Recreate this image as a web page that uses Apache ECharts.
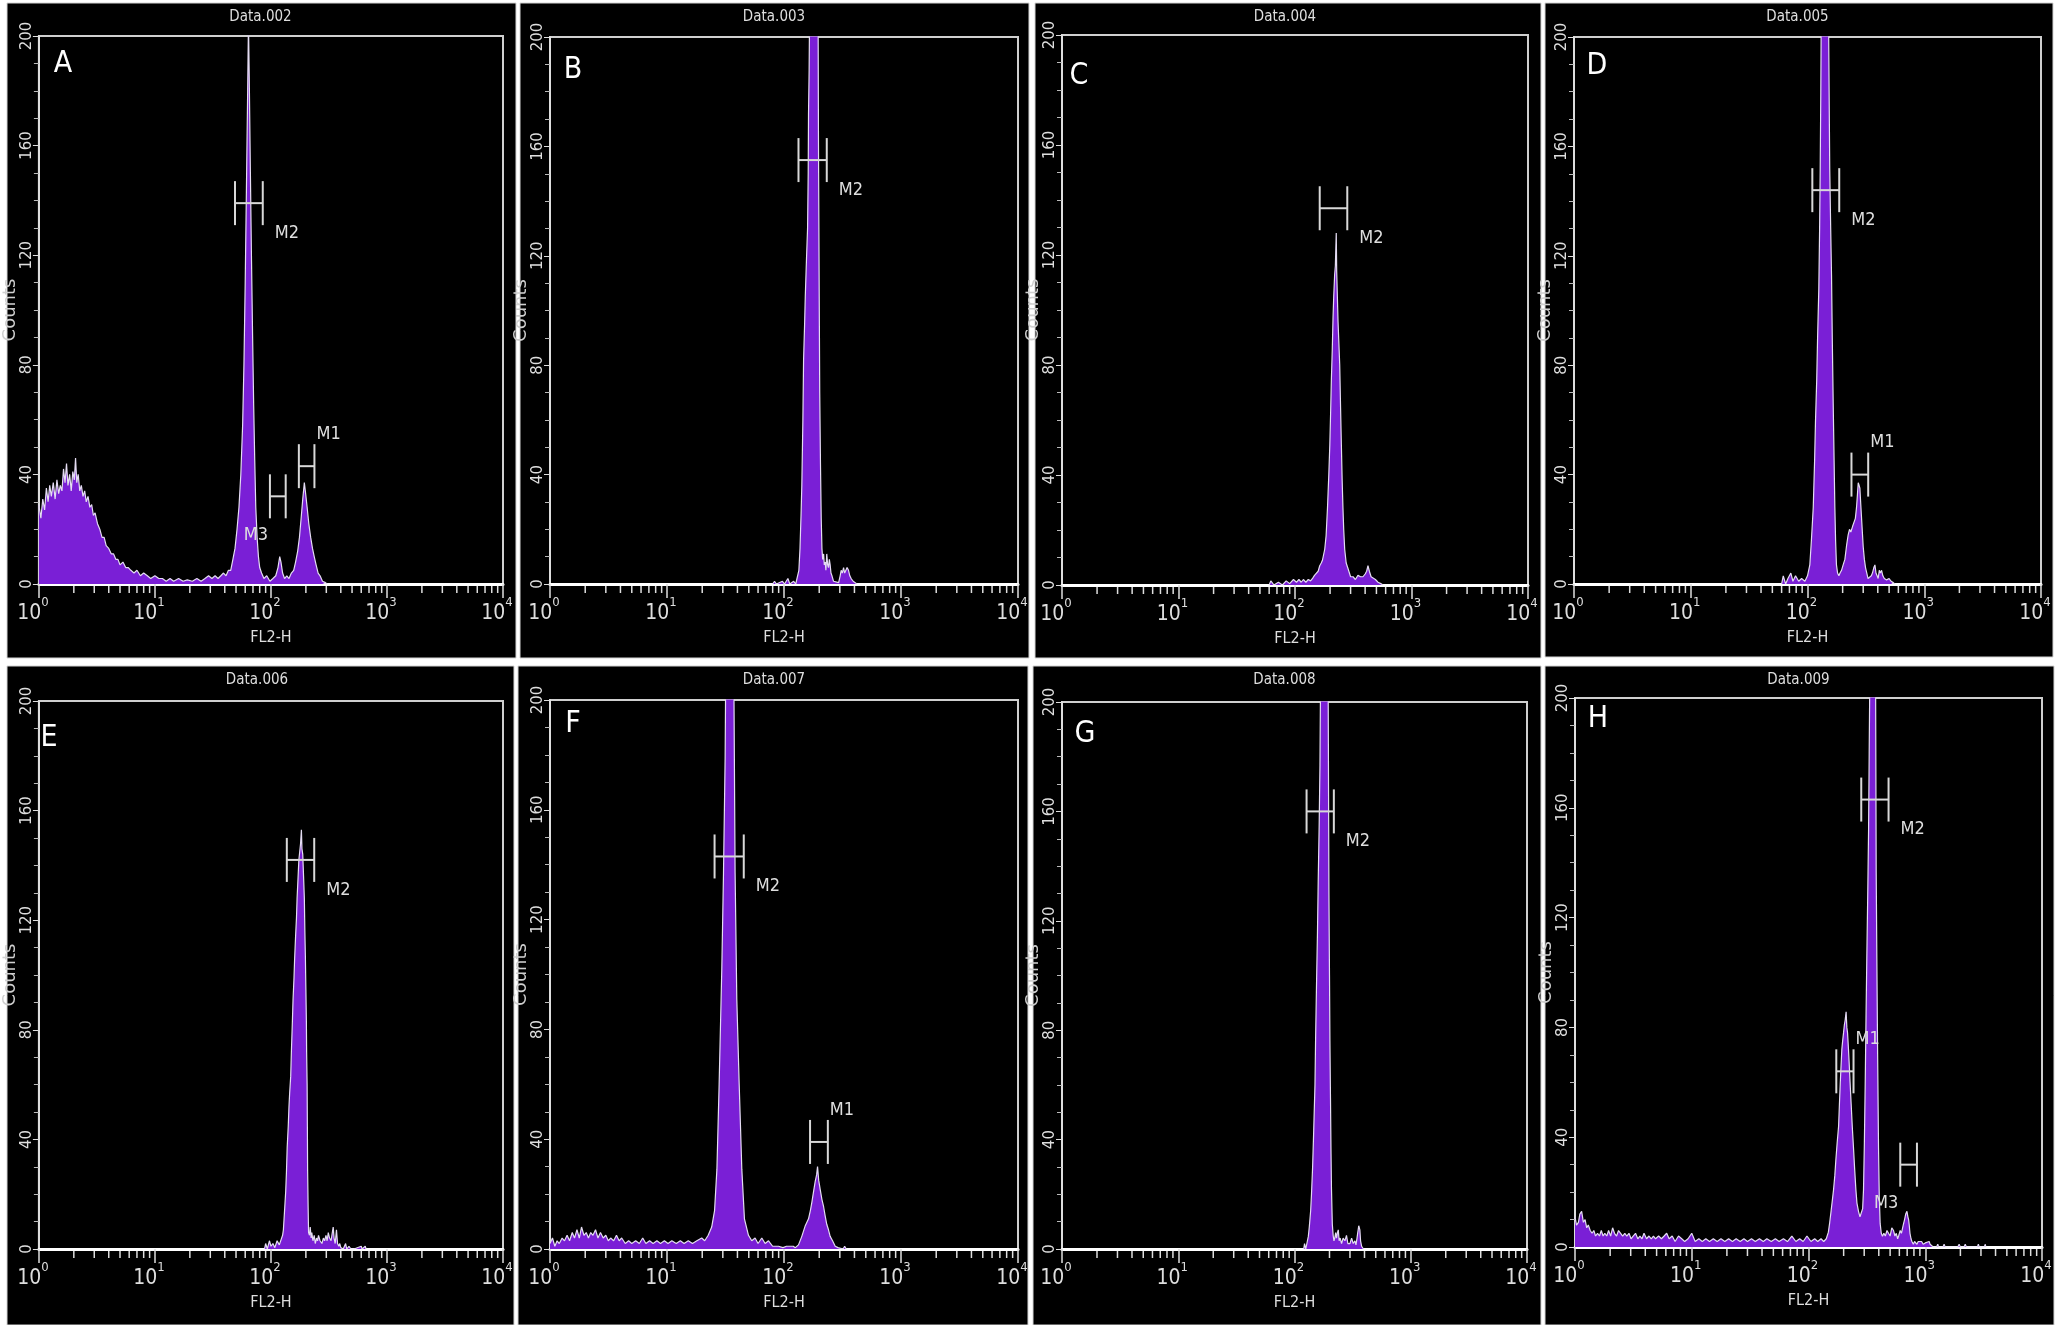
<!DOCTYPE html>
<html>
<head>
<meta charset="utf-8">
<style>
html, body { margin: 0; background: #fff; }
#chart { width: 2065px; height: 1325px; }
</style>
</head>
<body>
<div id="chart"></div>
<script src="https://cdn.jsdelivr.net/npm/echarts@6/dist/echarts.min.js"></script>
<script>
// ---- data: [FL2-H, counts] ----
var titles = ['Data.002', 'Data.003', 'Data.004', 'Data.005', 'Data.006', 'Data.007', 'Data.008', 'Data.009'];
var letters = ['A', 'B', 'C', 'D', 'E', 'F', 'G', 'H'];
var xTickExps = ['0', '1', '2', '3', '4'];
var minorTicks = [2, 3, 4, 5, 6, 7, 8, 9, 20, 30, 40, 50, 60, 70, 80, 90,
  200, 300, 400, 500, 600, 700, 800, 900, 2000, 3000, 4000, 5000, 6000, 7000, 8000, 9000];

var histA = [[1, 29], [1.04, 24], [1.08, 31], [1.12, 27], [1.16, 35], [1.2, 30], [1.24, 36], [1.28, 32], [1.33, 37],
  [1.38, 31], [1.43, 38], [1.48, 33], [1.53, 36], [1.58, 34], [1.63, 42], [1.68, 37], [1.73, 44], [1.78, 36], [1.84, 40],
  [1.9, 34], [1.96, 41], [2.02, 38], [2.07, 46], [2.12, 37], [2.18, 40], [2.25, 34], [2.32, 36], [2.4, 32], [2.48, 34],
  [2.56, 30], [2.65, 32], [2.75, 28], [2.85, 29], [2.95, 25], [3.05, 26], [3.2, 22], [3.35, 20], [3.5, 17], [3.65, 17],
  [3.8, 14], [4, 13], [4.2, 11], [4.4, 11], [4.6, 9], [4.8, 9], [5, 7], [5.3, 8], [5.6, 6], [5.9, 6], [6.2, 5], [6.6, 4],
  [7, 5], [7.5, 3], [8, 4], [8.6, 3], [9.2, 2], [10, 3], [10.8, 2], [11.6, 2], [12.5, 1], [13.5, 2], [14.5, 1], [16, 2],
  [17.5, 1], [19, 1.5], [21, 1], [23, 2], [25, 1], [27, 2], [29, 3], [31, 2], [33, 3], [35, 2], [37, 3], [39, 4], [41, 3],
  [43, 5], [45, 5], [47, 9], [49, 13], [51, 20], [53, 28], [55, 40], [57, 58], [58.5, 80], [60, 110], [61.5, 145],
  [63, 180], [64, 205], [65, 185], [66.5, 150], [68, 118], [69.5, 90], [71, 65], [72.5, 45], [74, 28], [76, 17], [78, 10],
  [80, 6], [83, 4], [87, 2], [92, 3], [98, 1], [104, 2], [110, 3], [115, 6], [119, 10], [122, 8], [126, 4], [131, 2],
  [137, 3], [143, 2], [150, 4], [157, 5], [163, 8], [170, 12], [176, 17], [182, 24], [188, 31], [194, 37], [199, 33],
  [205, 28], [212, 22], [220, 17], [228, 13], [236, 10], [245, 7], [255, 4], [265, 3], [278, 1], [295, 0.5], [305, 0]];

var histB = [[80, 0], [83, 1], [86, 0], [97, 1], [101, 0], [108, 2], [112, 0], [121, 1], [126, 0], [131, 0.5], [134, 5],
  [137, 13], [140, 26], [142, 36], [145, 60], [147, 82], [150, 95], [152, 105], [156, 120], [159, 130], [161, 150],
  [162, 172], [164, 188], [167, 230], [180, 250], [195, 230], [197, 164], [200, 105], [202, 70], [205, 44], [208, 24],
  [211, 13], [214, 9], [218, 11], [221, 7], [225, 8], [228, 5], [232, 11], [236, 7], [240, 6], [244, 9], [248, 7],
  [252, 4], [257, 3], [265, 1], [275, 1], [293, 0.5], [302, 3], [308, 5], [315, 4], [323, 6], [330, 4], [338, 5],
  [346, 6], [356, 5], [365, 3], [375, 2], [390, 1], [401, 0.5], [420, 0]];

var histC = [[60, 0], [62, 1.5], [66, 0], [72, 1], [78, 0], [84, 1.5], [90, 0.5], [97, 2], [103, 1], [108, 2], [113, 1],
  [118, 2], [124, 1], [130, 2], [136, 1.5], [142, 2.5], [147, 3.5], [152, 4], [158, 5], [163, 7], [168, 8], [172, 9],
  [176, 11], [180, 13], [185, 18], [190, 28], [195, 40], [199, 51], [202, 62], [205, 74], [209, 86], [212, 97],
  [215, 105], [219, 113], [222, 116], [226, 128], [228, 114], [231, 105], [234, 96], [238, 88], [242, 80], [246, 65],
  [250, 51], [254, 38], [258, 28], [262, 20], [267, 13], [275, 8], [285, 6], [300, 3], [315, 3], [330, 2], [347, 3.5],
  [365, 3], [383, 3], [400, 4], [412, 5], [423, 7], [435, 5], [450, 3], [467, 3], [490, 2], [516, 1], [545, 0.5], [570, 0]];

var histD = [[60, 0], [62, 3], [65, 0], [68, 2], [72, 4], [75, 1], [79, 3], [84, 1], [89, 2], [95, 1], [100, 3],
  [104.7, 7], [108, 16], [112, 28], [115, 45], [117, 59], [120, 75], [122, 90], [125, 108], [127, 130], [128.5, 152],
  [130, 180], [132, 230], [141, 250], [150, 230], [155, 152], [158, 130], [160.6, 113], [163, 90], [166, 66], [169, 45],
  [171.5, 28], [174, 16], [177, 7], [181, 4], [185.6, 3], [190, 4], [195.6, 5], [202, 7], [209, 9], [216, 14], [223, 18],
  [229, 20], [235, 19], [243, 21], [251, 21], [257, 24], [263, 28], [268, 33], [272, 37], [277, 36], [281, 35],
  [286, 29], [290, 24.5], [295, 19], [300, 13.6], [307, 9], [314, 6], [322, 4], [330, 2], [342, 2], [352, 3], [360, 4],
  [370, 6], [378, 7], [386, 4], [395, 3], [403, 2], [412, 5], [420, 4], [431, 5], [442, 3], [455, 2], [476, 1.5],
  [500, 2], [520, 1], [543, 0.5], [560, 0]];

var histE = [[88, 0], [90, 2], [93, 0], [97, 3], [100, 1], [104, 2], [108, 0.5], [113, 3], [118, 1.5], [122, 2],
  [126, 5], [128, 7], [131, 14], [134, 21], [136, 28], [138, 37], [141, 45], [143, 52], [145, 57], [148, 63], [150, 72],
  [153, 83], [155, 91], [158, 99], [160, 106], [163, 114], [166, 121], [168, 128], [171, 135], [174, 142], [177, 145],
  [180, 148], [183, 153], [185, 146], [188, 144], [191, 136], [194, 128], [196, 116], [198, 107], [200, 95], [202, 83],
  [203, 72], [205, 60], [206, 45], [207, 29], [209, 16], [211, 6], [215, 5], [218, 8], [222, 4], [225, 6], [230, 3],
  [236, 5], [241, 2], [247, 4], [252, 3], [257, 5], [265, 3], [275, 2], [283, 4], [290, 3], [298, 5], [305, 3], [312, 6],
  [320, 4], [330, 3], [338, 6], [344, 8], [350, 4], [358, 2], [367, 7], [375, 2], [385, 1], [392, 2], [400, 0.5],
  [420, 0], [440, 2], [450, 0], [470, 1], [490, 0], [520, 0], [600, 1], [610, 0], [650, 1], [660, 0]];

var histF = [[1, 2], [1.05, 4], [1.1, 1], [1.15, 3], [1.2, 2], [1.27, 4], [1.33, 3], [1.4, 5], [1.47, 3], [1.55, 6],
  [1.62, 4], [1.7, 7], [1.78, 4], [1.86, 8], [1.95, 5], [2.04, 6], [2.13, 4], [2.23, 6], [2.33, 5], [2.45, 7], [2.57, 4],
  [2.7, 6], [2.85, 4], [3, 5], [3.15, 3], [3.3, 4], [3.5, 3], [3.7, 5], [3.9, 3], [4.1, 4], [4.4, 2], [4.7, 3], [5, 2],
  [5.4, 3], [5.8, 2], [6.2, 4], [6.6, 2], [7.1, 3], [7.6, 2], [8.2, 3], [8.8, 2], [9.5, 3], [10.2, 2], [11, 3], [12, 2],
  [13, 3], [14, 2], [15.2, 3], [16.5, 2], [18, 3], [19.8, 4], [21, 3], [22.5, 5], [24.1, 8], [25.5, 14], [26.7, 29],
  [27.9, 60], [29.4, 102], [30.4, 137], [31.4, 179], [32, 230], [34.6, 250], [37, 230], [38.2, 137], [39.5, 91],
  [41.4, 60], [43.6, 29], [45.9, 11], [49.7, 5], [53, 3], [56.6, 4], [60, 2], [64.6, 4], [69, 2], [73.7, 3], [80, 1],
  [89.7, 1], [98, 0.5], [105, 1], [109, 0.5], [120, 1], [125, 0.5], [133, 1.5], [142, 4.6], [152, 8.5], [162, 11],
  [168, 14], [173, 17], [179, 21], [185, 24.7], [190, 27], [193.5, 30], [198, 25], [204, 21.6], [211, 18], [218, 15.4],
  [225, 12], [232, 9], [240, 7], [248, 4.6], [260, 3], [274, 1], [290, 0.5], [300, 0], [320, 0], [330, 1], [340, 0]];

var histG = [[120, 0], [122, 2], [125, 0], [131.5, 4.6], [134, 8], [137.7, 14], [140, 20], [143, 29.5], [146, 42],
  [150, 60], [152, 78], [155, 99], [157.5, 115], [160, 135], [163, 155], [165.6, 177], [167, 200], [171, 240], [183, 250],
  [192.6, 240], [195, 200], [197.8, 130], [200, 100], [201.7, 76], [204, 55], [205.9, 37], [208, 22], [211.5, 9],
  [215, 5], [218.5, 3], [222, 4], [226, 6], [230, 4], [234, 6], [238, 7], [242, 3], [247, 4], [254, 2], [262, 4],
  [271.5, 3], [280, 5], [288, 2], [300, 2], [310, 4], [320, 2], [331, 3], [338, 1.5], [345, 4], [350, 6], [353, 7],
  [357, 8.5], [362, 9], [365, 7], [370, 3], [378, 1], [385, 0.5], [392, 0]];

var histH = [[1, 11], [1.03, 8], [1.07, 9], [1.1, 12], [1.14, 13], [1.18, 9], [1.22, 10], [1.26, 7], [1.3, 8], [1.35, 6],
  [1.4, 5], [1.45, 6], [1.5, 4], [1.56, 5], [1.62, 4], [1.68, 6], [1.74, 4], [1.8, 5], [1.87, 4], [1.94, 6], [2.02, 4],
  [2.1, 7], [2.18, 5], [2.27, 4], [2.36, 6], [2.46, 5], [2.56, 4], [2.67, 5], [2.78, 4], [2.9, 5], [3.02, 3], [3.15, 4],
  [3.3, 5], [3.45, 3], [3.6, 4], [3.75, 3], [3.9, 5], [4.1, 3], [4.3, 4], [4.5, 3], [4.7, 4], [4.9, 3], [5.2, 4], [5.5, 3],
  [5.8, 4], [6.1, 5], [6.4, 3], [6.8, 4], [7.2, 2], [7.7, 4], [8.2, 3], [8.7, 2], [9.3, 3], [10, 5], [10.7, 2], [11.5, 3],
  [12.3, 2], [13.2, 3], [14.2, 2], [15.3, 3], [16.5, 2], [17.8, 3], [19.2, 2], [20.7, 3], [22.3, 2], [24, 3], [26, 2],
  [28, 3], [30, 2], [32.5, 3], [35, 2], [38, 3], [41, 2], [44, 3], [48, 2], [52, 3], [56, 2], [61, 3], [66, 2], [72, 4],
  [78, 2], [84, 3], [90, 2], [97, 4], [105, 2], [113, 3], [120, 2], [128, 3], [135, 2], [142, 3], [148, 5.4], [152, 9],
  [156, 13], [160, 17], [164, 21], [168, 26], [171.5, 31.7], [176, 38], [181, 44], [184, 52], [187, 59.5], [190, 66],
  [193, 72], [196, 75], [199.5, 78], [203, 81], [206, 82.6], [210, 85.7], [213, 80], [216, 78], [220, 72], [223, 67],
  [227, 60], [232, 52], [237, 44], [243, 36], [248, 29], [254.5, 21], [260, 16], [268, 13], [276, 11], [286, 11.6],
  [291, 14], [296, 21], [301, 38], [306, 59.5], [311, 84], [316, 106], [322, 130], [327, 152], [331, 180], [334, 200],
  [338, 240], [355, 250], [373, 240], [376, 200], [380, 137], [385, 105], [390, 75], [394, 55], [398, 36], [404, 18],
  [411, 8.5], [420, 5], [430, 3.9], [442, 5], [455, 4], [470, 6], [485, 5.4], [500, 4], [517, 7], [535, 6], [550, 4],
  [565, 5], [580, 3], [591, 4], [610, 6], [625, 5], [640, 7], [652, 8.5], [665, 10], [680, 12], [697, 13], [710, 11],
  [720, 10], [729, 8], [740, 5], [755, 3], [769, 2], [790, 1], [810, 2], [830, 1.5], [849, 1], [870, 2], [900, 1.5],
  [930, 2], [960, 1], [1000, 1.5], [1040, 1], [1080, 2], [1100, 1], [1141, 1], [1170, 0], [1250, 0], [1280, 1], [1300, 0],
  [1420, 0], [1450, 1], [1480, 0], [1900, 0], [1950, 1], [2000, 0], [2150, 0], [2200, 1], [2250, 0], [2800, 0],
  [2850, 1], [2900, 0], [3200, 0], [3270, 1], [3300, 0]];

// gates: [from, to, counts level, name]
var gatesA = [[49, 85, 139, 'M2'], [98, 134, 32, 'M3'], [174, 237, 43, 'M1']];
var gatesB = [[133, 232, 155, 'M2']];
var gatesC = [[163, 281, 137, 'M2']];
var gatesD = [[110, 187, 144, 'M2'], [238, 331, 40, 'M1']];
var gatesE = [[137, 236, 142, 'M2']];
var gatesF = [[25.5, 45.3, 143, 'M2'], [167, 237, 39, 'M1']];
var gatesG = [[127, 218, 160, 'M2']];
var gatesH = [[283, 485, 163, 'M2'], [173, 243, 64, 'M1'], [611, 849, 30, 'M3']];

var hists = [histA, histB, histC, histD, histE, histF, histG, histH];
var gates = [gatesA, gatesB, gatesC, gatesD, gatesE, gatesF, gatesG, gatesH];

// ---- layout ----
var plots = [
  [38, 36, 465, 548], [550, 37, 468, 547], [1062, 35, 466, 550], [1574, 37, 467, 547],
  [31, 701, 472, 548], [550, 700, 468, 549], [1062, 702, 465, 547], [1575, 698, 467, 549]
];
var panels = [
  [7, 3, 509, 655], [520, 3, 509, 655], [1035, 3, 506, 655], [1545, 3, 508, 654],
  [7, 666, 507, 659], [518, 666, 510, 659], [1033, 666, 508, 659], [1545, 666, 509, 659]
];
var letterPos = [[25, 28], [23, 33], [17, 41], [23, 29], [18, 37], [23, 24], [23, 32], [23, 21]];

var NARROW = "'Liberation Sans Narrow', 'DejaVu Sans Condensed', 'Arial Narrow', sans-serif";
var FG = '#dedede';
var PURPLE = '#7a1fd6';

var grids = [], xAxes = [], yAxes = [], series = [], graphics = [];

plots.forEach(function (p, i) {
  grids.push({
    left: p[0], top: p[1], width: p[2], height: p[3],
    show: true, backgroundColor: '#000', borderColor: '#cfcfcf', borderWidth: 2
  });
  xAxes.push({
    gridIndex: i, type: 'log', logBase: 10, min: 1, max: 10000,
    axisLine: { show: true, onZero: false, lineStyle: { color: '#fff', width: 3 } },
    axisTick: { show: true, length: 14, lineStyle: { color: FG, width: 1.5 } },
    splitLine: { show: false },
    axisLabel: {
      margin: 12, showMinLabel: true, showMaxLabel: true, padding: [0, 12, 0, 0],
      formatter: function (v) {
        return '{b|10}{s|' + xTickExps[Math.round(Math.log10(v))] + '}';
      },
      rich: {
        b: { fontFamily: NARROW, fontSize: 21, color: FG, lineHeight: 28, verticalAlign: 'bottom' },
        s: { fontFamily: NARROW, fontSize: 13, color: FG, lineHeight: 14, verticalAlign: 'top' }
      }
    },
    name: 'FL2-H', nameLocation: 'middle', nameGap: 46,
    nameTextStyle: { color: FG, fontFamily: NARROW, fontSize: 16 }
  });
  yAxes.push({
    gridIndex: i, type: 'value', min: 0, max: 200, interval: 40,
    axisLine: { show: true, lineStyle: { color: FG, width: 2 } },
    axisTick: { show: true, length: 6, lineStyle: { color: FG } },
    minorTick: { show: true, splitNumber: 4, length: 5, lineStyle: { color: '#bbb' } },
    splitLine: { show: false },
    axisLabel: { rotate: 90, color: FG, fontFamily: 'DejaVu Sans', fontSize: 15, margin: 4 },
    name: 'Counts', nameLocation: 'middle', nameRotate: 90, nameGap: 15,
    nameTextStyle: { color: '#cfcfcf', fontFamily: 'DejaVu Sans', fontSize: 18 }
  });

  series.push({
    type: 'line', xAxisIndex: i, yAxisIndex: i, data: hists[i],
    symbol: 'none', clip: true, z: 3,
    lineStyle: { color: '#e4dcf2', width: 1.2 },
    areaStyle: { color: PURPLE, opacity: 1 }
  });

  series.push({
    type: 'custom', xAxisIndex: i, yAxisIndex: i, clip: false, z: 4, silent: true,
    data: minorTicks.map(function (v) { return [v, 0]; }),
    renderItem: function (params, api) {
      var c = api.coord([api.value(0), 0]);
      return {
        type: 'line',
        shape: { x1: c[0], y1: c[1] + 2, x2: c[0], y2: c[1] + 9 },
        style: { stroke: FG, lineWidth: 1.5 }
      };
    }
  });

  var gl = gates[i];
  series.push({
    type: 'custom', xAxisIndex: i, yAxisIndex: i, clip: false, z: 5, silent: true,
    data: gl.map(function (g) { return [g[0], g[2], g[1]]; }),
    renderItem: function (params, api) {
      var g = gl[params.dataIndex];
      var a = api.coord([g[0], g[2]]);
      var b = api.coord([g[1], g[2]]);
      var h = 22;
      var st = { stroke: '#d8d8d8', lineWidth: 2 };
      var tx, ty, align;
      if (g[3] === 'M2') { tx = b[0] + 12; ty = b[1] + 30; align = 'left'; }
      else if (g[3] === 'M1') { tx = b[0] + 2; ty = b[1] - 32; align = 'left'; }
      else { tx = a[0] - 2; ty = a[1] + 39; align = 'right'; }
      return {
        type: 'group',
        children: [
          { type: 'line', shape: { x1: a[0], y1: a[1], x2: b[0], y2: b[1] }, style: st },
          { type: 'line', shape: { x1: a[0], y1: a[1] - h, x2: a[0], y2: a[1] + h }, style: st },
          { type: 'line', shape: { x1: b[0], y1: b[1] - h, x2: b[0], y2: b[1] + h }, style: st },
          {
            type: 'text', x: tx, y: ty,
            style: { text: g[3], fill: FG, fontFamily: NARROW, fontSize: 18, align: align, verticalAlign: 'middle' }
          }
        ]
      };
    }
  });

  var pn = panels[i];
  graphics.push({
    type: 'rect', z: -100, silent: true,
    shape: { x: pn[0], y: pn[1], width: pn[2], height: pn[3] },
    style: { fill: '#000', stroke: '#d4d4d4', lineWidth: 1 }
  });
  graphics.push({
    type: 'text', z: 100, silent: true,
    x: p[0] + p[2] / 2 - 10, y: pn[1] + 14,
    style: { text: titles[i], fill: FG, fontFamily: NARROW, fontSize: 15, align: 'center', verticalAlign: 'middle' }
  });
  graphics.push({
    type: 'text', z: 100, silent: true,
    x: p[0] + letterPos[i][0], y: p[1] + letterPos[i][1],
    style: { text: letters[i], fill: '#fff', fontFamily: NARROW, fontSize: 30, align: 'center', verticalAlign: 'middle' }
  });
});

var chart = echarts.init(document.getElementById('chart'));
chart.setOption({
  backgroundColor: '#fff',
  animation: false,
  grid: grids,
  xAxis: xAxes,
  yAxis: yAxes,
  series: series,
  graphic: graphics
});
</script>
</body>
</html>
